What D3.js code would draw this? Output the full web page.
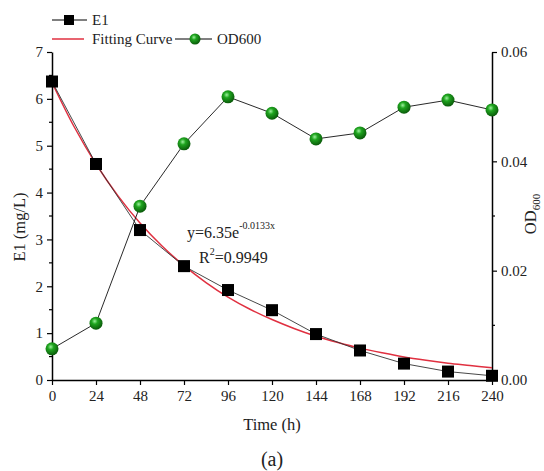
<!DOCTYPE html>
<html><head><meta charset="utf-8">
<script src="https://cdn.jsdelivr.net/npm/d3@7"></script>
<style>body{margin:0;background:#fff}svg{display:block;font-family:"Liberation Serif","Times New Roman",serif}</style>
</head><body><svg id="c" width="544" height="471"></svg>
<script>
const times = [0,24,48,72,96,120,144,168,192,216,240];
const e1 = [6.37,4.61,3.2,2.43,1.92,1.49,0.98,0.63,0.35,0.18,0.09];
const od600 = [0.0057,0.0104,0.0318,0.0432,0.0518,0.0488,0.0441,0.0452,0.0499,0.0512,0.0494];
const fitTimes = [0,12,24,36,48,60,72,84,96,108,120,132,144,156,168,180,192,204,216,228,240];
const fitValues = [6.35,5.41,4.61,3.93,3.35,2.86,2.44,2.08,1.77,1.51,1.29,1.10,0.935,0.80,0.68,0.58,0.49,0.42,0.36,0.31,0.26];
const xTicks = [0,24,48,72,96,120,144,168,192,216,240];
const yLeftTicks = [0,1,2,3,4,5,6,7];
const yRightTicks = [0,0.02,0.04,0.06];

const svg = d3.select("#c");
const m = {l:52, r:492, t:52, b:380};
const x = d3.scaleLinear().domain([0,240]).range([m.l,m.r]);
const yL = d3.scaleLinear().domain([0,7]).range([m.b,m.t]);
const yR = d3.scaleLinear().domain([0,0.06]).range([m.b,m.t]);

const defs = svg.append("defs");
const g = defs.append("radialGradient").attr("id","ball").attr("cx","40%").attr("cy","35%").attr("r","65%");
g.append("stop").attr("offset","0%").attr("stop-color","#9df09d");
g.append("stop").attr("offset","35%").attr("stop-color","#1fa51f");
g.append("stop").attr("offset","100%").attr("stop-color","#0a5a0a");

function styleAxis(sel){
  sel.selectAll("path").attr("stroke","#000").attr("stroke-width",1.5);
  sel.selectAll(".tick line").attr("stroke","#000").attr("stroke-width",1.2);
  sel.selectAll("text").attr("font-family","Liberation Serif").attr("font-size",15).attr("fill","#222");
}
// minor ticks
const minorL = d3.range(0.5,7,1);
svg.append("g").selectAll("line").data(minorL).join("line")
  .attr("x1",m.l-3).attr("x2",m.l).attr("y1",d=>yL(d)).attr("y2",d=>yL(d)).attr("stroke","#000").attr("stroke-width",1.2);
const minorR = [0.01,0.03,0.05];
svg.append("g").selectAll("line").data(minorR).join("line")
  .attr("x1",m.r).attr("x2",m.r+3).attr("y1",d=>yR(d)).attr("y2",d=>yR(d)).attr("stroke","#000").attr("stroke-width",1.2);

const ax = svg.append("g").attr("transform",`translate(0,${m.b})`)
  .call(d3.axisBottom(x).tickValues(xTicks).tickSize(5).tickSizeOuter(0).tickPadding(5));
styleAxis(ax);
const ayl = svg.append("g").attr("transform",`translate(${m.l},0)`)
  .call(d3.axisLeft(yL).tickValues(yLeftTicks).tickSize(5).tickSizeOuter(0).tickFormat(d3.format("d")).tickPadding(4));
styleAxis(ayl);
const ayr = svg.append("g").attr("transform",`translate(${m.r},0)`)
  .call(d3.axisRight(yR).tickValues(yRightTicks).tickSize(5).tickSizeOuter(0).tickFormat(d3.format(".2f")).tickPadding(4));
styleAxis(ayr);

// fitting curve
svg.append("path").datum(fitTimes.map((t,i)=>[t,fitValues[i]]))
  .attr("fill","none").attr("stroke","#e03040").attr("stroke-width",1.5)
  .attr("d",d3.line().x(d=>x(d[0])).y(d=>yL(d[1])).curve(d3.curveCatmullRom));

// E1 line and markers
svg.append("path").datum(times.map((t,i)=>[t,e1[i]]))
  .attr("fill","none").attr("stroke","#333").attr("stroke-width",0.9)
  .attr("d",d3.line().x(d=>x(d[0])).y(d=>yL(d[1])));
svg.append("g").selectAll("rect").data(times.map((t,i)=>[t,e1[i]])).join("rect")
  .attr("x",d=>x(d[0])-6).attr("y",d=>yL(d[1])-6).attr("width",12).attr("height",12).attr("fill","#000");

// OD600 line and markers
svg.append("path").datum(times.map((t,i)=>[t,od600[i]]))
  .attr("fill","none").attr("stroke","#111").attr("stroke-width",0.9)
  .attr("d",d3.line().x(d=>x(d[0])).y(d=>yR(d[1])));
svg.append("g").selectAll("circle").data(times.map((t,i)=>[t,od600[i]])).join("circle")
  .attr("cx",d=>x(d[0])).attr("cy",d=>yR(d[1])).attr("r",6.5).attr("fill","url(#ball)");

// axis titles
svg.append("text").attr("transform","translate(25,227) rotate(-90)").attr("text-anchor","middle")
  .attr("font-size",16.5).attr("fill","#222").text("E1 (mg/L)");
svg.append("text").attr("x",272).attr("y",430).attr("text-anchor","middle")
  .attr("font-size",16.5).attr("fill","#222").text("Time (h)");
const od = svg.append("text").attr("transform","translate(536,214) rotate(-90)").attr("text-anchor","middle")
  .attr("font-size",16.5).attr("fill","#222");
od.append("tspan").text("OD");
od.append("tspan").attr("font-size",11).attr("dy",4).text("600");
svg.append("text").attr("x",272).attr("y",466).attr("text-anchor","middle")
  .attr("font-size",20).attr("fill","#222").text("(a)");

// annotation
const eq = svg.append("text").attr("x",187).attr("y",238).attr("font-size",16).attr("fill","#222");
eq.append("tspan").text("y=6.35e");
eq.append("tspan").attr("font-size",10).attr("dy",-9).text("-0.0133x");
const r2 = svg.append("text").attr("x",199).attr("y",263).attr("font-size",16).attr("fill","#222");
r2.append("tspan").text("R");
r2.append("tspan").attr("font-size",10).attr("dy",-8).text("2");
r2.append("tspan").attr("dy",8).text("=0.9949");

// legend
const lg = svg.append("g");
lg.append("line").attr("x1",52).attr("x2",87).attr("y1",20).attr("y2",20).attr("stroke","#000").attr("stroke-width",1);
lg.append("rect").attr("x",64).attr("y",15).attr("width",10).attr("height",10).attr("fill","#000");
lg.append("text").attr("x",92).attr("y",25).attr("font-size",15).attr("fill","#222").text("E1");
lg.append("line").attr("x1",52).attr("x2",84).attr("y1",39).attr("y2",39).attr("stroke","#e03040").attr("stroke-width",1.5);
lg.append("text").attr("x",92).attr("y",44).attr("font-size",15).attr("fill","#222").text("Fitting Curve");
lg.append("line").attr("x1",175).attr("x2",212).attr("y1",39).attr("y2",39).attr("stroke","#000").attr("stroke-width",1);
lg.append("circle").attr("cx",195).attr("cy",39).attr("r",5.5).attr("fill","url(#ball)");
lg.append("text").attr("x",217).attr("y",44).attr("font-size",15).attr("fill","#222").text("OD600");
</script></body></html>
